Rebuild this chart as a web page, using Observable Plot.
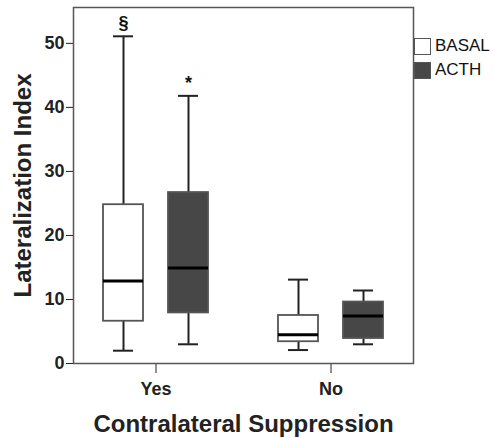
<!DOCTYPE html>
<html>
<head>
<meta charset="utf-8">
<script src="https://cdn.jsdelivr.net/npm/d3@7"></script>
<script src="https://cdn.jsdelivr.net/npm/@observablehq/plot@0.6"></script>
<style>
  body { margin: 0; background: #fff; }
  #wrap { position: relative; width: 494px; height: 438px; }
  svg [aria-label="y-axis label"] text, svg [aria-label="fx-axis label"] text,
  svg [aria-label="y-axis label"], svg [aria-label="fx-axis label"] {
    font-size: 24px; font-weight: bold;
  }
  #legend { position: absolute; left: 414px; top: 34px; font: 17px "Liberation Sans", Arial, sans-serif; color: #111; }
  #legend .row { display: flex; align-items: center; height: 24px; }
  #legend .sw { width: 15px; height: 15px; border: 1px solid #555; margin-right: 4px; }
</style>
</head>
<body>
<div id="wrap"></div>
<script>
const groups = ["Yes", "Yes", "No", "No"];
const series = ["BASAL", "ACTH", "BASAL", "ACTH"];
const whiskerLow = [2.0, 3.0, 2.1, 3.0];
const q1 = [6.6, 7.9, 3.4, 3.9];
const median = [12.9, 14.9, 4.5, 7.4];
const q3 = [24.8, 26.7, 7.5, 9.6];
const whiskerHigh = [51.1, 41.8, 13.1, 11.4];
const marks = ["§", "*", "", ""];
const groupOrder = ["Yes", "No"];
const seriesOrder = ["BASAL", "ACTH"];
const seriesFill = ["#ffffff", "#474747"];
const yTicks = [0, 10, 20, 30, 40, 50];

const data = groups.map((g, i) => ({
  group: g, series: series[i], lo: whiskerLow[i], q1: q1[i], med: median[i],
  q3: q3[i], hi: whiskerHigh[i], mark: marks[i]
}));

const chart = Plot.plot({
  width: 494,
  height: 438,
  marginLeft: 73,
  marginRight: 81,
  marginTop: 7,
  marginBottom: 75,
  style: { fontFamily: "'Liberation Sans', Arial, sans-serif", fontSize: "18px", fontWeight: "bold", color: "#222", background: "#fff" },
  fx: { domain: groupOrder, paddingInner: 0.059, paddingOuter: 0, axis: "bottom", tickSize: 10, tickPadding: 9, label: "Contralateral Suppression", labelAnchor: "center", labelOffset: 68, labelArrow: false },
  x: { domain: seriesOrder, paddingInner: 0.3846, paddingOuter: 0.459, axis: null },
  y: { domain: [0, 55.6], ticks: yTicks, tickSize: 7, tickPadding: 2, label: "Lateralization Index", labelAnchor: "center", labelOffset: 60, labelArrow: false, tickFormat: d3.format("d") },
  color: { domain: seriesOrder, range: seriesFill },
  marks: [
    Plot.ruleX(data, { fx: "group", x: "series", y1: "lo", y2: "hi", stroke: "#222", strokeWidth: 2 }),
    Plot.tickY(data, { fx: "group", x: "series", y: "lo", stroke: "#222", strokeWidth: 2, inset: 10 }),
    Plot.tickY(data, { fx: "group", x: "series", y: "hi", stroke: "#222", strokeWidth: 2, inset: 10 }),
    Plot.barY(data, { fx: "group", x: "series", y1: "q1", y2: "q3", fill: "series", stroke: "#555", strokeWidth: 1.8 }),
    Plot.tickY(data, { fx: "group", x: "series", y: "med", stroke: "#000", strokeWidth: 3 }),
    Plot.text(data, { fx: "group", x: "series", y: "hi", text: "mark", dy: -13, fontSize: 18, fontWeight: "bold", fill: "#111" }),
    Plot.frame({ facet: "super", stroke: "#555", strokeWidth: 1.5 })
  ]
});

const wrap = document.getElementById("wrap");
wrap.appendChild(chart);
const legend = document.createElement("div");
legend.id = "legend";
seriesOrder.forEach((s, i) => {
  const row = document.createElement("div");
  row.className = "row";
  const sw = document.createElement("span");
  sw.className = "sw";
  sw.style.background = seriesFill[i];
  row.appendChild(sw);
  row.appendChild(document.createTextNode(s));
  legend.appendChild(row);
});
wrap.appendChild(legend);
</script>
</body>
</html>
